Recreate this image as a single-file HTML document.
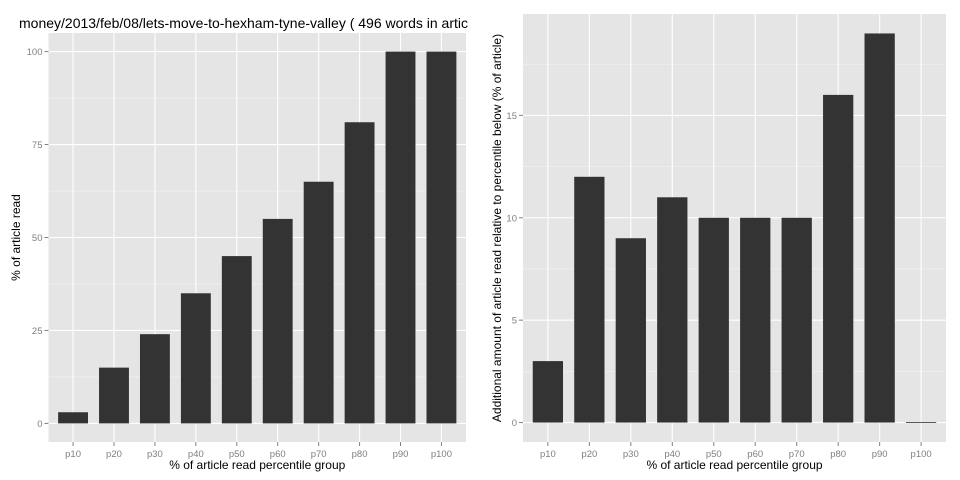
<!DOCTYPE html>
<html><head><meta charset="utf-8"><style>
body{margin:0;background:#fff;}
svg{display:block;font-family:"Liberation Sans",sans-serif;}
</style></head><body>
<svg id="c" width="960" height="480" xmlns="http://www.w3.org/2000/svg">
<rect width="960" height="480" fill="#fff"/>
<text x="19" y="28" font-size="14" fill="#000">money/2013/feb/08/lets-move-to-hexham-tyne-valley ( 496 words in artic</text>
</svg>
<script>
const categories = ["p10","p20","p30","p40","p50","p60","p70","p80","p90","p100"];
const leftValues = [3,15,24,35,45,55,65,81,100,100];
const rightValues = [3,12,9,11,10,10,10,16,19,0];
const leftTicks = [0,25,50,75,100];
const rightTicks = [0,5,10,15];
const NS = "http://www.w3.org/2000/svg";
const svg = document.getElementById("c");
function mk(tag, attrs, parent){
  const e = document.createElementNS(NS, tag);
  for (const k in attrs) e.setAttribute(k, attrs[k]);
  (parent||svg).appendChild(e);
  return e;
}
function panel(cfg){
  const {x0,x1,y0,y1,values,ticks,step,ymax,ylabel,ylabX,name} = cfg;
  const lo = -0.05*ymax, hi = ymax*1.05;
  const y = v => y1 - (v - lo)/(hi - lo)*(y1 - y0);
  const n = categories.length;
  const bw = (x1 - x0)/(n + 0.2);
  const x = i => x0 + (i + 0.6)*bw;
  const g = mk("g", {});
  
  
  const bg = mk("rect", {x:x0, y:y0, width:x1-x0, height:y1-y0, fill:"#e5e5e5"}, g);
  
  
  for (let v = step/2; v < hi; v += step) {
    mk("line", {x1:x0, x2:x1, y1:y(v), y2:y(v), stroke:"#f2f2f2", "stroke-width":0.6}, g);
  }
  ticks.forEach(t => {
    const gl = mk("line", {x1:x0, x2:x1, y1:y(t), y2:y(t), stroke:"#fff", "stroke-width":1.1}, g);
    
    
    mk("line", {x1:x0-4, x2:x0, y1:y(t), y2:y(t), stroke:"#7f7f7f", "stroke-width":1}, g);
    const tl = mk("text", {x:x0-6, y:y(t)+3.5, "font-size":9.5, fill:"#7f7f7f", "text-anchor":"end"}, g);
    tl.textContent = t;
    
    
  });
  categories.forEach((c, i) => {
    const vl = mk("line", {x1:x(i), x2:x(i), y1:y0, y2:y1, stroke:"#fff", "stroke-width":1.1}, g);
    
    
  });
  categories.forEach((c, i) => {
    const v = values[i];
    const w = bw*0.73;
    const top = Math.min(y(v), y(0)), h = Math.max(Math.abs(y(0)-y(v)), 0.8);
    const b = mk("rect", {x:x(i)-w/2, y:v===0?y(0)-0.4:top, width:w, height:h, fill:"#333333"}, g);
    
    
    mk("line", {x1:x(i), x2:x(i), y1:y1, y2:y1+4, stroke:"#7f7f7f", "stroke-width":1}, g);
    const xl = mk("text", {x:x(i), y:y1+15, "font-size":9.5, fill:"#7f7f7f", "text-anchor":"middle"}, g);
    xl.textContent = c;
    
    
  });
  const xt = mk("text", {x:(x0+x1)/2, y:469, "font-size":12, fill:"#000", "text-anchor":"middle"}, g);
  xt.textContent = "% of article read percentile group";
  
  
  const cy = (y0+y1)/2;
  const yt = mk("text", {x:ylabX, y:cy, "font-size":12, fill:"#000", "text-anchor":"middle", transform:`rotate(-90 ${ylabX} ${cy})`}, g);
  yt.textContent = ylabel;
  
  
}
panel({x0:48.5, x1:466, y0:33, y1:442, values:leftValues, ticks:leftTicks, step:25, ymax:100, ylabel:"% of article read", ylabX:20, name:"left-panel"});
panel({x0:523, x1:946, y0:14, y1:442, values:rightValues, ticks:rightTicks, step:5, ymax:19, ylabel:"Additional amount of article read relative to percentile below (% of article)", ylabX:501, name:"right-panel"});
</script>
</body></html>
